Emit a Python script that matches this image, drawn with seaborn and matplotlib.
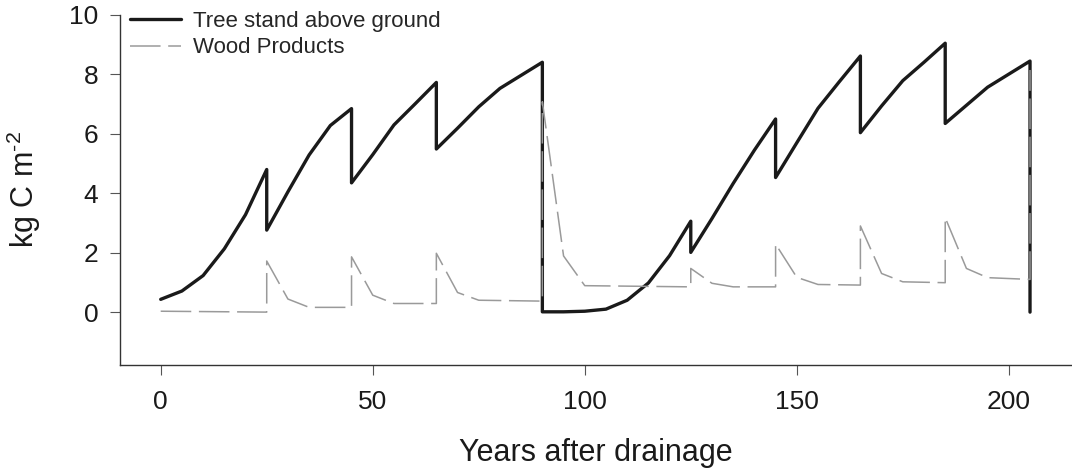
import matplotlib
matplotlib.use("Agg")
import matplotlib.pyplot as plt
import seaborn as sns
import pandas as pd

# ---- data ----
tree_years = [0, 5, 10, 15, 20, 25, 25, 30, 35, 40, 45, 45, 50, 55, 60, 65, 65, 70, 75, 80, 85,
              90, 90, 95, 100, 105, 110, 115, 120, 125, 125, 130, 135, 140, 145, 145, 150, 155,
              160, 165, 165, 170, 175, 180, 185, 185, 190, 195, 200, 205, 205]
tree_values = [0.43, 0.71, 1.23, 2.13, 3.28, 4.80, 2.76, 4.05, 5.29, 6.28, 6.85, 4.35, 5.30, 6.30,
               7.01, 7.73, 5.49, 6.19, 6.91, 7.53, 7.97, 8.41, 0.01, 0.01, 0.03, 0.10, 0.40, 0.98,
               1.90, 3.06, 2.01, 3.15, 4.33, 5.45, 6.50, 4.53, 5.70, 6.86, 7.75, 8.62, 6.04, 6.94,
               7.79, 8.41, 9.05, 6.35, 6.96, 7.57, 8.01, 8.45, 0.0]

wood_years = [0, 25, 25, 30, 35, 45, 45, 50, 55, 65, 65, 70, 75, 90, 90, 95, 100, 125, 125, 130,
              135, 145, 145, 150, 155, 165, 165, 170, 175, 185, 185, 190, 195, 205, 205]
wood_values = [0.03, 0.0, 1.72, 0.44, 0.16, 0.16, 1.86, 0.57, 0.29, 0.29, 1.98, 0.66, 0.40, 0.37,
               7.08, 1.89, 0.89, 0.85, 1.47, 0.97, 0.85, 0.85, 2.29, 1.17, 0.93, 0.91, 2.90, 1.30,
               1.02, 0.99, 3.18, 1.47, 1.16, 1.10, 8.15]

series_names = ["Tree stand above ground", "Wood Products"]
x_ticks = [0, 50, 100, 150, 200]
y_ticks = [0, 2, 4, 6, 8, 10]

tree_df = pd.DataFrame({"year": tree_years, "value": tree_values})
wood_df = pd.DataFrame({"year": wood_years, "value": wood_values})

sns.set_style("ticks")
plt.rcParams["font.family"] = ["Liberation Sans", "DejaVu Sans"]
plt.rcParams["mathtext.fontset"] = "custom"
plt.rcParams["mathtext.rm"] = "Liberation Sans"
plt.rcParams["mathtext.it"] = "Liberation Sans:italic"
plt.rcParams["mathtext.bf"] = "Liberation Sans:bold"

fig = plt.figure(figsize=(10.72, 4.73), dpi=100)
ax = fig.add_axes([120 / 1072, 1 - 365 / 473, 952 / 1072, 350 / 473])

sns.lineplot(data=tree_df, x="year", y="value", sort=False, estimator=None, ax=ax,
             color="#1a1a1a", linewidth=2.4, label=series_names[0])
sns.lineplot(data=wood_df, x="year", y="value", sort=False, estimator=None, ax=ax,
             color="#9a9a9a", linewidth=1.1, dashes=False, label=series_names[1])
ax.lines[1].set_dashes([20, 5])

ax.set_xlim(-9.6, 214.9)
ax.set_ylim(-1.78, 10)
ax.set_xticks(x_ticks)
ax.set_yticks(y_ticks)
ax.tick_params(axis="both", labelsize=19, length=7, width=0.8, color="#555555",
               labelcolor="#1a1a1a")
ax.tick_params(axis="x", pad=11)
ax.tick_params(axis="y", pad=8.5)

sns.despine(ax=ax)
for s in ["left", "bottom"]:
    ax.spines[s].set_color("#333333")
    ax.spines[s].set_linewidth(1.0)

ax.set_xlabel("Years after drainage", fontsize=22, labelpad=17, color="#1a1a1a")
ax.set_ylabel(r"kg C m$^{\text{-}2}$", fontsize=22, labelpad=19, color="#1a1a1a")

leg = ax.legend(loc="upper left", bbox_to_anchor=(0.0105, 1.012), frameon=False, fontsize=16,
                handlelength=2.3, handletextpad=0.55, labelspacing=0.25, borderpad=0,
                borderaxespad=0)
leg.get_lines()[1].set_dashes([20, 5])

fig.savefig("out.png", dpi=100)
